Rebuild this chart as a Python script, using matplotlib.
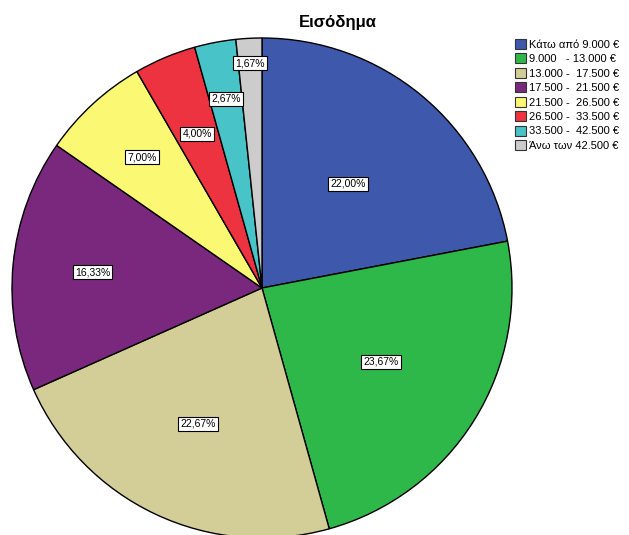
import matplotlib
matplotlib.use("Agg")
import matplotlib.pyplot as plt
from matplotlib.patches import Patch
import numpy as np

plt.rcParams['font.family'] = ['Liberation Sans', 'DejaVu Sans']

categories = ["Κάτω από 9.000 €", "9.000   - 13.000 €", "13.000 -  17.500 €",
              "17.500 -  21.500 €", "21.500 -  26.500 €", "26.500 -  33.500 €",
              "33.500 -  42.500 €", "Άνω των 42.500 €"]
values = [22.00, 23.67, 22.67, 16.33, 7.00, 4.00, 2.67, 1.67]
labels = ["22,00%", "23,67%", "22,67%", "16,33%", "7,00%", "4,00%", "2,67%", "1,67%"]
colors = ["#3e58ac", "#2fb84a", "#d3ce98", "#7a287d", "#fbf873", "#ee3340", "#48c3c7", "#cccccc"]
label_r = [0.54, 0.56, 0.60, 0.68, 0.71, 0.67, 0.77, 0.90]

W, H = 629, 535
fig = plt.figure(figsize=(W/100, H/100), dpi=100)
ax = fig.add_axes([0, 0, 1, 1])

cx, cy, R = 262, H - 288, 250
wedges, _ = ax.pie(values, colors=colors, startangle=90, counterclock=False,
                   center=(cx, cy), radius=R, frame=True,
                   wedgeprops=dict(edgecolor='black', linewidth=1.0))
ax.set_xlim(0, W)
ax.set_ylim(0, H)
ax.set_aspect('equal')
ax.axis('off')

for w, lab, rf in zip(wedges, labels, label_r):
    ang = np.deg2rad((w.theta1 + w.theta2) / 2)
    x = cx + rf * R * np.cos(ang)
    y = cy + rf * R * np.sin(ang)
    ax.text(x, y, lab, ha='center', va='center', fontsize=7.5,
            bbox=dict(boxstyle='square,pad=0.2', facecolor='white', edgecolor='black', linewidth=0.8))

fig.text(338/W, 1 - 22/H, "Εισόδημα", ha='center', va='center', fontsize=12, fontweight='bold')

handles = [Patch(facecolor=c, edgecolor='#333333', linewidth=0.8) for c in colors]
leg = fig.legend(handles, categories, loc='upper left', bbox_to_anchor=(515/W, 1 - 39/H),
                 frameon=False, fontsize=8, handlelength=1.0, handleheight=1.0,
                 handletextpad=0.25, labelspacing=0.33, borderaxespad=0, borderpad=0)

fig.savefig("out.png", dpi=100)
